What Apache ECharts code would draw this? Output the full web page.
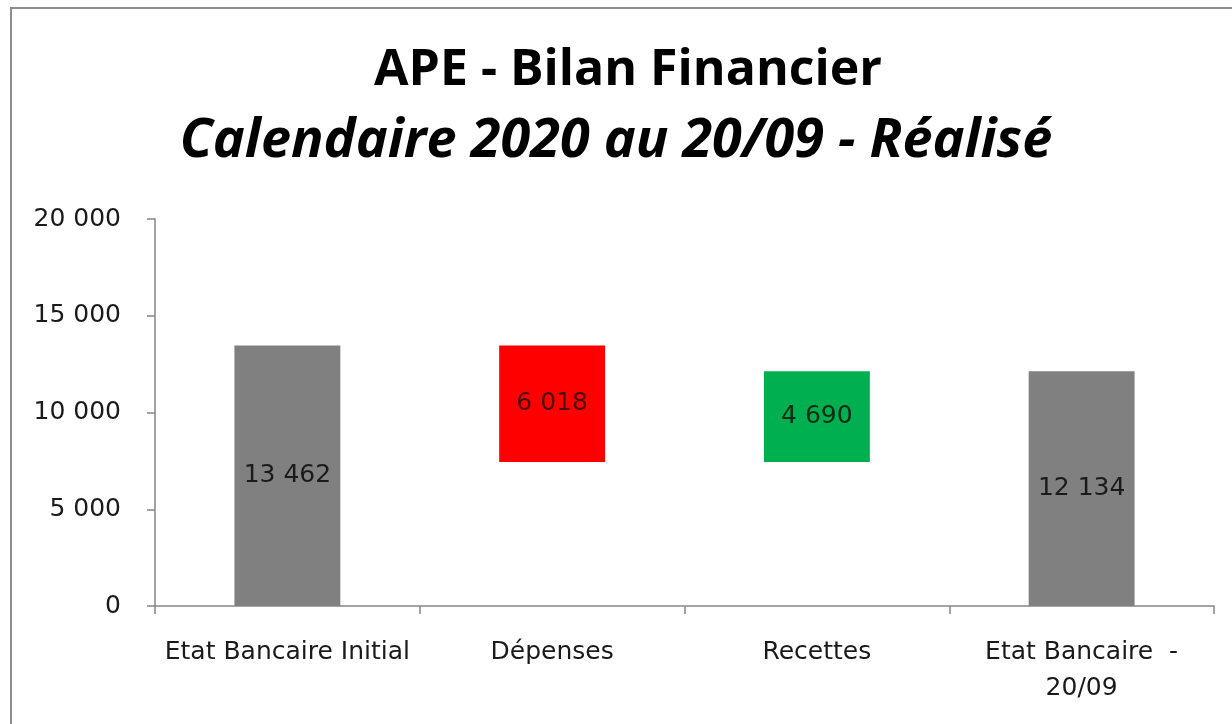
<!DOCTYPE html>
<html>
<head>
<meta charset="utf-8">
<script src="https://cdn.jsdelivr.net/npm/echarts@6/dist/echarts.min.js"></script>
<style>
  html, body { margin: 0; padding: 0; background: #fff; }
  #chart { width: 1232px; height: 724px; }
</style>
</head>
<body>
<div id="chart"></div>
<script>
// Bilan APE : cascade (waterfall)
const categories = ['Etat Bancaire Initial', 'Dépenses', 'Recettes', 'Etat Bancaire  -\n20/09'];
const amounts = [13462, 6018, 4690, 12134];
const kinds = ['total', 'moins', 'plus', 'total'];
const barColors = ['#808080', '#FF0000', '#00B050', '#808080'];
const labelColors = ['#1a1a1a', '#4a0a0a', '#0d2a14', '#1a1a1a'];
const yTicks = [0, 5000, 10000, 15000, 20000];

// base invisible de chaque barre
let running = 0;
const bases = amounts.map((v, i) => {
  if (kinds[i] === 'total') { running = v; return 0; }
  if (kinds[i] === 'moins') { running -= v; return running; }
  const b = running; running += v; return b;
});

const fmt = v => String(v).replace(/\B(?=(\d{3})+(?!\d))/g, ' ');

const chart = echarts.init(document.getElementById('chart'));
chart.setOption({
  animation: false,
  backgroundColor: '#fff',
  graphic: [{
    type: 'polyline',
    shape: { points: [[11, 724], [11, 8], [1232, 8]] },
    style: { stroke: '#8c8c8c', lineWidth: 2, fill: null }
  }],
  title: [{
    text: 'APE - Bilan Financier',
    left: 369,
    top: 41,
    textStyle: { fontFamily: 'Open Sans', fontWeight: 'bold', fontSize: 50, color: '#000' }
  }, {
    text: 'Calendaire 2020 au 20/09 - Réalisé',
    left: 'center',
    top: 110,
    textStyle: { fontFamily: 'Open Sans', fontWeight: 'bold', fontStyle: 'italic', fontSize: 54, color: '#000' }
  }],
  grid: { left: 155, right: 18, top: 219, bottom: 118, containLabel: false },
  xAxis: {
    type: 'category',
    data: categories,
    axisLine: { lineStyle: { color: '#868686', width: 1.5 } },
    axisTick: { show: true, interval: 0, length: 8, lineStyle: { color: '#868686', width: 1.5 } },
    axisLabel: {
      interval: 0,
      hideOverlap: false,
      margin: 28,
      fontFamily: 'DejaVu Sans',
      fontSize: 25,
      lineHeight: 36,
      color: '#1a1a1a'
    }
  },
  yAxis: {
    type: 'value',
    min: yTicks[0],
    max: yTicks[yTicks.length - 1],
    interval: 5000,
    splitLine: { show: false },
    axisLine: { show: true, lineStyle: { color: '#868686', width: 1.5 } },
    axisTick: { show: true, length: 8, lineStyle: { color: '#868686', width: 1.5 } },
    axisLabel: {
      margin: 34,
      fontFamily: 'DejaVu Sans',
      fontSize: 25,
      color: '#1a1a1a',
      formatter: fmt
    }
  },
  series: [{
    type: 'bar',
    stack: 'w',
    barWidth: '40%',
    itemStyle: { color: 'transparent' },
    emphasis: { disabled: true },
    data: bases
  }, {
    type: 'bar',
    stack: 'w',
    barWidth: '40%',
    data: amounts.map((v, i) => ({
      value: v,
      itemStyle: { color: barColors[i] },
      label: { color: labelColors[i] }
    })),
    label: {
      show: true,
      position: 'inside',
      fontFamily: 'DejaVu Sans',
      fontSize: 25,
      formatter: p => fmt(p.value)
    }
  }]
});
</script>
</body>
</html>
